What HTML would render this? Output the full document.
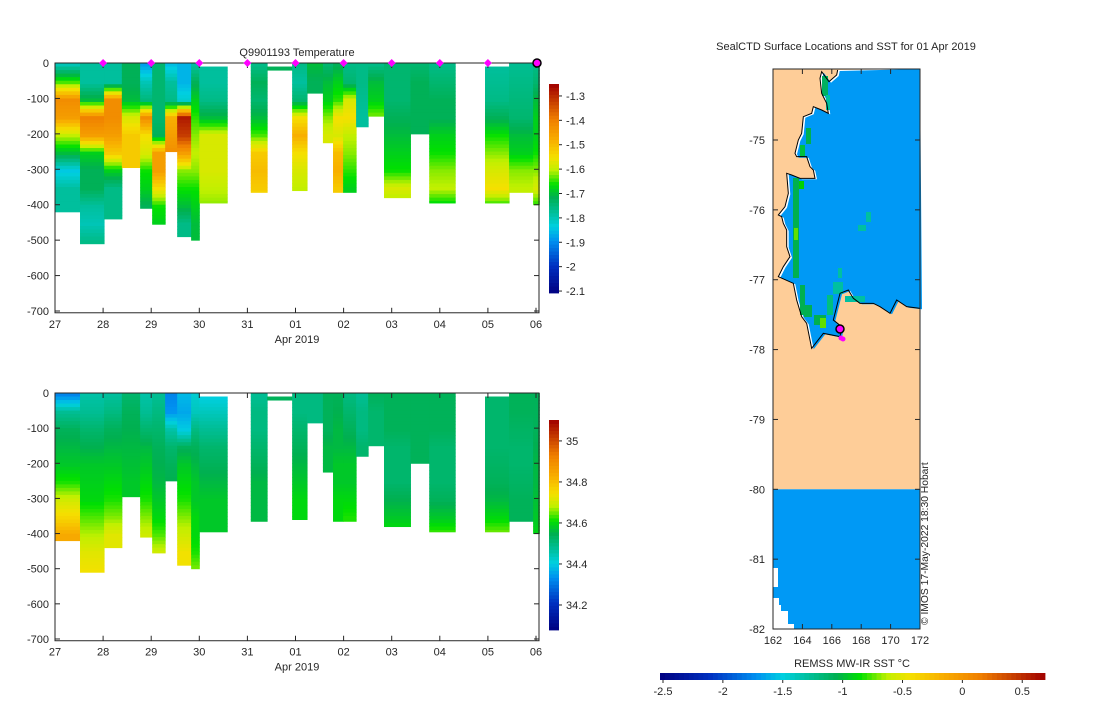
<!DOCTYPE html>
<html><head><meta charset="utf-8"><style>
body{margin:0;background:#fff}
svg text{font-family:"Liberation Sans","DejaVu Sans",sans-serif;font-size:11px;fill:#262626}
</style></head><body>
<svg id="s" width="1100" height="700" viewBox="0 0 1100 700" xmlns="http://www.w3.org/2000/svg"></svg>
<script>
// ---- data ----
const castStart=[0,0.52,1.02,1.39,1.77,2.02,2.29,2.54,2.83,3.0,4.07,4.41,4.93,5.24,5.57,5.78,5.99,6.26,6.51,6.84,7.39,7.78,8.94,9.44,9.94];
const castEnd=[0.52,1.02,1.39,1.77,2.02,2.29,2.54,2.83,3.0,3.58,4.41,4.93,5.24,5.57,5.78,5.99,6.26,6.51,6.84,7.39,7.78,8.32,9.44,9.94,10.07];
const castTop=[0,0,0,0,0,0,0,0,0,10,0,10,0,0,0,0,0,0,0,0,0,0,10,0,0];
const castDepth=[420,510,440,295,410,455,250,490,500,395,365,20,360,85,225,365,365,180,150,380,200,395,395,365,400];
const tempProfiles=[
[-1.80,-1.64,-1.42,-1.45,-1.60,-1.70,-1.84,-1.78,-1.78,-1.78],
[-1.78,-1.78,-1.70,-1.40,-1.45,-1.68,-1.72,-1.72,-1.78,-1.80,-1.76],
[-1.78,-1.78,-1.42,-1.42,-1.45,-1.52,-1.68,-1.76,-1.76,-1.76],
[-1.72,-1.72,-1.70,-1.58,-1.52,-1.52,-1.52],
[-1.88,-1.80,-1.75,-1.42,-1.55,-1.58,-1.66,-1.68,-1.72],
[-1.74,-1.74,-1.74,-1.74,-1.72,-1.45,-1.45,-1.55,-1.66,-1.68],
[-1.85,-1.78,-1.76,-1.48,-1.45,-1.42],
[-1.86,-1.86,-1.82,-1.28,-1.32,-1.45,-1.62,-1.66,-1.70,-1.76,-1.76],
[-1.78,-1.72,-1.68,-1.65,-1.62,-1.60,-1.62,-1.66,-1.68,-1.70,-1.70],
[-1.78,-1.78,-1.76,-1.70,-1.58,-1.58,-1.58,-1.60,-1.62],
[-1.76,-1.72,-1.74,-1.70,-1.64,-1.52,-1.50,-1.52,-1.58],
[-1.72],
[-1.76,-1.78,-1.74,-1.55,-1.48,-1.55,-1.58,-1.60],
[-1.70,-1.72],
[-1.74,-1.70,-1.68,-1.62,-1.58],
[-1.72,-1.68,-1.65,-1.55,-1.58,-1.50,-1.48,-1.52],
[-1.76,-1.74,-1.58,-1.55,-1.60,-1.62,-1.65,-1.68],
[-1.76,-1.76,-1.77,-1.78],
[-1.76,-1.70,-1.68,-1.62],
[-1.74,-1.74,-1.74,-1.72,-1.70,-1.68,-1.66,-1.58,-1.62],
[-1.74,-1.72,-1.72,-1.72,-1.72],
[-1.76,-1.74,-1.72,-1.72,-1.68,-1.66,-1.62,-1.60,-1.68],
[-1.78,-1.77,-1.76,-1.72,-1.66,-1.62,-1.58,-1.55,-1.66],
[-1.77,-1.76,-1.75,-1.74,-1.70,-1.68,-1.62,-1.60],
[-1.76,-1.74,-1.70,-1.68,-1.68,-1.66,-1.62,-1.58,-1.66]];
const salProfiles=[
[34.32,34.48,34.54,34.56,34.58,34.62,34.70,34.76,34.84],
[34.46,34.48,34.52,34.55,34.58,34.59,34.60,34.64,34.68,34.72,34.74],
[34.47,34.50,34.54,34.56,34.58,34.60,34.62,34.66,34.72],
[34.52,34.54,34.55,34.56,34.57,34.58,34.58],
[34.46,34.48,34.52,34.56,34.58,34.60,34.62,34.66,34.70],
[34.48,34.50,34.52,34.54,34.55,34.56,34.58,34.60,34.64,34.70],
[34.32,34.34,34.46,34.52,34.54,34.55],
[34.38,34.36,34.40,34.54,34.58,34.60,34.62,34.66,34.70,34.74],
[34.42,34.44,34.50,34.54,34.56,34.58,34.58,34.60,34.60,34.62,34.66],
[34.40,34.44,34.48,34.52,34.54,34.56,34.58,34.58,34.58],
[34.48,34.50,34.50,34.52,34.54,34.56,34.56,34.56],
[34.54],
[34.50,34.50,34.52,34.54,34.56,34.58,34.60,34.60],
[34.50,34.50],
[34.54,34.54,34.54,34.56,34.56],
[34.54,34.55,34.56,34.56,34.58,34.58,34.60,34.60],
[34.50,34.52,34.54,34.56,34.58,34.58,34.60,34.62],
[34.48,34.50,34.50,34.52],
[34.54,34.52,34.52,34.52],
[34.54,34.54,34.54,34.52,34.52,34.52,34.55,34.58,34.62],
[34.54,34.54,34.54,34.54,34.54],
[34.54,34.54,34.54,34.52,34.52,34.52,34.54,34.58,34.64],
[34.52,34.52,34.52,34.52,34.53,34.54,34.56,34.60,34.66],
[34.54,34.54,34.53,34.52,34.52,34.53,34.54,34.54],
[34.54,34.54,34.54,34.55,34.56,34.56,34.57,34.58,34.60]];
const dayLabels=["27","28","29","30","31","01","02","03","04","05","06"];
const depthTicks=[0,-100,-200,-300,-400,-500,-600,-700];
const tempTicks=[-1.3,-1.4,-1.5,-1.6,-1.7,-1.8,-1.9,-2,-2.1];
const salTicks=[35,34.8,34.6,34.4,34.2];
const surfaceDays=[1,2,3,4,5,6,7,8,9];
const lonTicks=[162,164,166,168,170,172];
const latTicks=[-75,-76,-77,-78,-79,-80,-81,-82];
const sstTicks=[-2.5,-2,-1.5,-1,-0.5,0,0.5];

const NS="http://www.w3.org/2000/svg";
const S=document.getElementById('s');
function el(tag,attrs,parent){const e=document.createElementNS(NS,tag);for(const k in attrs)e.setAttribute(k,attrs[k]);(parent||S).appendChild(e);return e;}
function txt(x,y,s,anchor,parent){const t=el('text',{x:x,y:y,'text-anchor':anchor||'middle'},parent);t.textContent=s;return t;}

const stops=[[0,[0,0,128]],[0.13,[0,48,192]],[0.25,[0,144,240]],[0.32,[0,208,224]],[0.38,[0,192,160]],[0.46,[0,176,80]],[0.52,[0,224,0]],[0.59,[192,240,0]],[0.65,[245,224,0]],[0.73,[248,176,0]],[0.83,[240,128,0]],[1,[160,0,0]]];
function cmap(f){f=Math.max(0,Math.min(1,f));for(let i=1;i<stops.length;i++){if(f<=stops[i][0]){const a=stops[i-1],b=stops[i],u=(f-a[0])/(b[0]-a[0]);const c=a[1].map((v,j)=>Math.round(v+(b[1][j]-v)*u));return `rgb(${c[0]},${c[1]},${c[2]})`;}}return 'rgb(160,0,0)';}

const X0=55,X1=539,DAYPX=48.1;
const xDay=d=>X0+d*DAYPX;

function profilePanel(name,yTop,yPx,profiles,vmin,vmax,cbTop,cbBot,ticks,tickFmt){
  const g=el('g',{});
  
  
  const yD=d=>yTop+d*yPx;
  for(let i=0;i<castStart.length;i++){
    const c=el('g',{},g);
    
    
    const p=profiles[i];
    for(let d=castTop[i];d<castDepth[i];d+=10){
      const k=d/50,i0=Math.min(Math.floor(k),p.length-1),i1=Math.min(i0+1,p.length-1),u=k-Math.floor(k);
      const v=p[i0]+(p[i1]-p[i0])*u;
      const h=Math.min(10,castDepth[i]-d);
      el('rect',{x:xDay(castStart[i]),y:yD(d),width:xDay(castEnd[i])-xDay(castStart[i])+0.5,height:h*yPx+0.5,fill:cmap((v-vmin)/(vmax-vmin))},c);
    }
  }
  const yB=yD(705);
  const ax=el('g',{stroke:'#262626','stroke-width':1,fill:'none'},g);
  
  
  el('rect',{x:X0,y:yTop,width:X1-X0,height:yB-yTop},ax);
  depthTicks.forEach(t=>{const y=yD(-t);el('line',{x1:X0,y1:y,x2:X0+5,y2:y},ax);el('line',{x1:X1,y1:y,x2:X1-5,y2:y},ax);txt(X0-6,y+4,String(t),'end',g);});
  dayLabels.forEach((s,i)=>{const x=xDay(i);el('line',{x1:x,y1:yB,x2:x,y2:yB-5},ax);el('line',{x1:x,y1:yTop,x2:x,y2:yTop+5},ax);txt(x,yB+15,s,'middle',g);});
  txt(297,yB+30,'Apr 2019','middle',g);
  const cb=el('g',{},g);
  
  
  const n=60,h=(cbBot-cbTop)/n;
  for(let i=0;i<n;i++)el('rect',{x:549,y:cbBot-(i+1)*h,width:10,height:h+0.4,fill:cmap((i+0.5)/n)},cb);
  ticks.forEach(t=>{const y=cbBot-(t-vmin)/(vmax-vmin)*(cbBot-cbTop);el('line',{x1:559,y1:y,x2:562,y2:y,stroke:'#262626'},cb);txt(566,y+4,tickFmt(t),'start',cb);});
  return {yD,g};
}
const tempPanel=profilePanel('temperature-panel',63,0.3543,tempProfiles,-2.108,-1.251,84,293,tempTicks,t=>String(t));
txt(297,56,'Q9901193  Temperature','middle');
surfaceDays.forEach(d=>{const m=el('path',{d:`M${xDay(d)} 59 l4 4 l-4 4 l-4 -4z`,fill:'#ff00ff'});});
const lm=el('circle',{cx:537,cy:63,r:4,fill:'#ff00ff',stroke:'#000','stroke-width':1.5});


const salPanel=profilePanel('salinity-panel',393,0.3514,salProfiles,34.078,35.102,420,630,salTicks,t=>String(t));

// ---- map ----
const MX0=773,MX1=920,MY0=69,MY1=629;
const lonX=l=>MX0+(l-162)*14.7;
const latY=l=>140+(-75-l)*69.86;
const mapG=el('g',{});


el('rect',{x:MX0,y:MY0,width:MX1-MX0,height:latY(-80)-MY0,fill:'#fecd98'},mapG);
el('rect',{x:MX0,y:latY(-80),width:MX1-MX0,height:MY1-latY(-80),fill:'#0099f5'},mapG);
el('path',{d:`M${MX0} 568 h5 v19 h-5z M${MX0} 598 h6 v7 h2 v6 h7 v13 h6 v5 h-21z`,fill:'#fff'},mapG);
const coast=[[233,30],[230,45],[207,65],[185,35],[180,55],[185,100],[200,130],[205,160],[185,150],[160,140],[155,160],[130,170],[125,220],[115,240],[105,280],[110,290],[140,290],[150,320],[160,330],[165,355],[120,355],[95,345],[80,340],[85,400],[75,440],[55,465],[65,470],[70,490],[80,510],[80,560],[90,590],[70,620],[55,650],[100,670],[110,720],[125,770],[140,790],[155,865],[190,820],[240,830],[245,800],[220,780],[240,700],[265,690],[280,715],[300,730],[340,730],[360,740],[390,760],[410,720],[440,740],[480,745]];
const cpts=coast.map(p=>[760+p[0]/3,60+p[1]/3]);
const waterD='M'+cpts.map(p=>p[0].toFixed(1)+' '+p[1].toFixed(1)).join(' L')+` L${MX1} ${MY0} Z`;
const w=el('path',{d:waterD,fill:'#fff'},mapG);


const inner=cpts.map(p=>[p[0]+2,p[1]+1]);
el('path',{d:'M'+inner.map(p=>p[0].toFixed(1)+' '+p[1].toFixed(1)).join(' L')+` L${MX1} ${MY0} Z`,fill:'#0099f5'},mapG);
const greens=[[822,76,6,20,'#00b060'],[826,95,4,15,'#00c0a0'],[806,128,5,16,'#00b050'],[800,145,5,12,'#00c040'],[793,178,6,100,'#00b050'],[799,181,5,8,'#00d000'],[794,228,4,12,'#60e000'],[800,285,5,30,'#00b050'],[804,305,8,12,'#00b050'],[814,315,12,10,'#00b050'],[820,318,6,10,'#60e000'],[827,295,6,20,'#00c080'],[833,282,10,12,'#00c0a0'],[845,296,20,6,'#00c0a0'],[866,212,5,10,'#00c0a0'],[858,225,8,6,'#00c0a0'],[838,268,4,10,'#00c0a0']];
greens.forEach(g=>el('rect',{x:g[0],y:g[1],width:g[2],height:g[3],fill:g[4]},mapG));
el('polyline',{points:cpts.map(p=>p.join(',')).join(' '),fill:'none',stroke:'#000','stroke-width':1},mapG);
const dep=el('g',{},mapG);


el('circle',{cx:841,cy:338,r:2.5,fill:'#ff00ff'},dep);
el('circle',{cx:843,cy:339,r:2.5,fill:'#ff00ff'},dep);
el('circle',{cx:840,cy:329,r:4,fill:'#ff00ff',stroke:'#000','stroke-width':1.5},dep);
const max=el('g',{stroke:'#262626',fill:'none'},mapG);
el('rect',{x:MX0,y:MY0,width:MX1-MX0,height:MY1-MY0},max);
lonTicks.forEach(l=>{const x=lonX(l);el('line',{x1:x,y1:MY1,x2:x,y2:MY1-5},max);el('line',{x1:x,y1:MY0,x2:x,y2:MY0+5},max);txt(x,MY1+15,String(l),'middle',mapG);});
latTicks.forEach(l=>{const y=latY(l);el('line',{x1:MX0,y1:y,x2:MX0+5,y2:y},max);el('line',{x1:MX1,y1:y,x2:MX1-5,y2:y},max);txt(MX0-8,y+4,String(l),'end',mapG);});
txt(846,50,'SealCTD Surface Locations and SST for 01 Apr 2019','middle');
const stamp=el('text',{x:0,y:0,transform:'translate(928,625) rotate(-90)','text-anchor':'start',style:'font-size:10.3px'});
stamp.textContent='© IMOS 17-May-2022 18:30 Hobart';


const hcb=el('g',{});


const HX0=660,HX1=1045,smin=-2.525,smax=0.69;
for(let i=0;i<80;i++){const wd=(HX1-HX0)/80;el('rect',{x:HX0+i*wd,y:673,width:wd+0.4,height:7,fill:cmap((i+0.5)/80)},hcb);}
sstTicks.forEach(t=>{const x=HX0+(t-smin)/(smax-smin)*(HX1-HX0);el('line',{x1:x,y1:680,x2:x,y2:683,stroke:'#262626'},hcb);txt(x,695,String(t),'middle',hcb);});
txt(852,667,'REMSS MW-IR SST °C','middle',hcb);
</script>
</body></html>
